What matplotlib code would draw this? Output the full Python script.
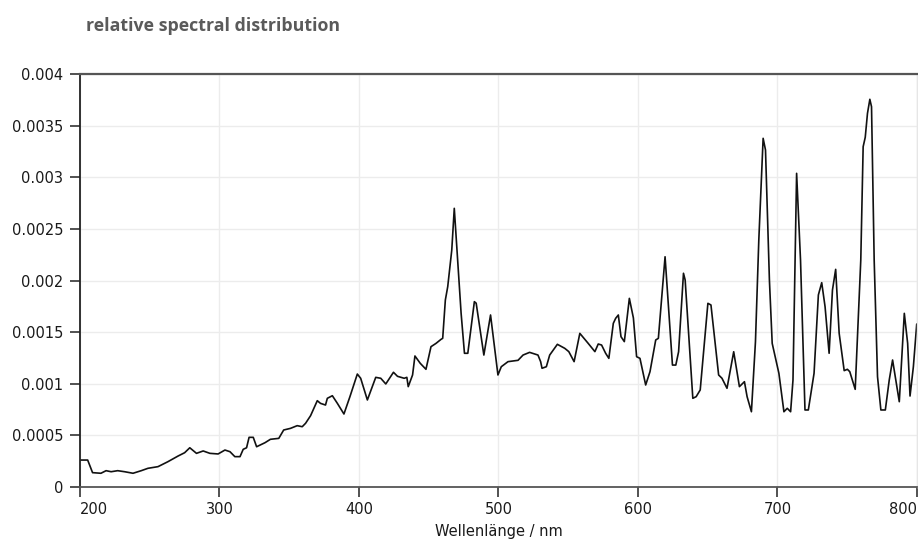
import matplotlib
matplotlib.use("Agg")
import matplotlib.pyplot as plt
from matplotlib.ticker import FixedLocator

# ---- data ----
wavelength = [
    200, 205.5, 209, 215, 218.7, 222.3, 227, 232, 238, 243.9, 248.7, 255.9, 263, 270.3, 275, 278.7,
    283.5, 288.3, 293.1, 299, 303.9, 307.5, 311, 314.7, 317, 319.4, 321.2, 324.2, 326.6, 332.6,
    336.5, 342.5, 346, 350.9, 355.7, 359.3, 361.7, 365.3, 370.1, 372.4, 376, 377.3, 380.9, 384.5,
    389.2, 393.5, 398.8, 401.2, 406, 412, 415.6, 419.2, 424.7, 427.6, 432.4, 434.3, 435.3, 438.4,
    440.1, 443.9, 448, 451.6, 455.2, 458.8, 460, 461.9, 463.6, 466.5, 468.3, 473.2, 475.6, 478,
    482.7, 484, 489.5, 494.3, 499.6, 502, 506.8, 514, 517.6, 522.3, 528.3, 530.2, 531.2, 534.3,
    536.7, 542.2, 547.5, 550.4, 554.2, 558.3, 564.3, 569.1, 571.5, 573.9, 576.8, 579.1, 582.3,
    584, 585.9, 587.8, 590.2, 593.8, 596.7, 599, 601.4, 605.5, 608.6, 611, 612.7, 614.6, 619.4,
    624.7, 627.1, 629.1, 632.6, 633.8, 639.3, 641.7, 644.6, 650.1, 652.3, 657.8, 660.2, 663.8,
    668.6, 672.7, 676.3, 678.2, 681.3, 684.2, 686.6, 689.7, 691.4, 694.2, 696.2, 701, 704.6, 707,
    709.4, 711.1, 713.7, 716.5, 719.7, 722.1, 726.2, 729.3, 731.7, 734.1, 737, 739.4, 741.7,
    744.2, 747.8, 750.1, 751.8, 755.7, 759.7, 761.4, 762.9, 764.5, 766.2, 767.4, 769.3, 771.7,
    774.1, 777.3, 780.1, 782.5, 785.4, 787.3, 790.9, 793.3, 795, 797.4, 799.8, 801.7,
]
intensity = [
    0.000261, 0.000261, 0.000139, 0.000133, 0.000158, 0.000148, 0.000158, 0.000148, 0.000133,
    0.000158, 0.000181, 0.000197, 0.000245, 0.000300, 0.000332, 0.000380,
    0.000326, 0.000349, 0.000326, 0.000320, 0.000358, 0.000342, 0.000294, 0.000294, 0.000365,
    0.000380, 0.000481, 0.000481, 0.000390, 0.000429,
    0.000462, 0.000471, 0.000552, 0.000568, 0.000594, 0.000584, 0.000617, 0.000691, 0.000836,
    0.000810, 0.000794, 0.000859, 0.000884, 0.000810,
    0.000707, 0.000875, 0.001094, 0.001053, 0.000843, 0.001062, 0.001053, 0.000998, 0.001111,
    0.001072, 0.001053, 0.001062, 0.000972, 0.001085,
    0.001269, 0.001198, 0.001140, 0.001359, 0.001391, 0.001430, 0.001440, 0.001811, 0.001940,
    0.002295, 0.002699, 0.001682, 0.001295, 0.001295,
    0.001795, 0.001780, 0.001278, 0.001666, 0.001085, 0.001165, 0.001214, 0.001227, 0.001278,
    0.001304, 0.001278, 0.001214, 0.001150, 0.001165,
    0.001278, 0.001382, 0.001343, 0.001311, 0.001214, 0.001488, 0.001391, 0.001311, 0.001385,
    0.001375, 0.001295, 0.001246, 0.001585,
    0.001634, 0.001666, 0.001456, 0.001408, 0.001827, 0.001637, 0.001262, 0.001246, 0.000988,
    0.001117, 0.001295, 0.001424, 0.001440, 0.002230,
    0.001181, 0.001181, 0.001310, 0.002070, 0.002005, 0.000859, 0.000875, 0.000940, 0.001779,
    0.001763, 0.001085, 0.001053, 0.000956,
    0.001310, 0.000972, 0.001020, 0.000875, 0.000729, 0.001407, 0.002392, 0.003377, 0.003264,
    0.002005, 0.001391, 0.001101, 0.000729, 0.000762,
    0.000729, 0.001036, 0.003038, 0.002198, 0.000746, 0.000746, 0.001101, 0.001860, 0.001979,
    0.001746, 0.001295, 0.001908, 0.002108,
    0.001489, 0.001127, 0.001140, 0.001117, 0.000946, 0.002198, 0.003296, 0.003387, 0.003619,
    0.003755, 0.003683, 0.002198, 0.001068,
    0.000746, 0.000746, 0.001036, 0.001230, 0.000988, 0.000826, 0.001682, 0.001391, 0.000881,
    0.001165, 0.001578, 0.001550,
]
assert len(wavelength) == len(intensity)

x_ticks = [200, 300, 400, 500, 600, 700, 800]
x_tick_labels = ["200", "300", "400", "500", "600", "700", "800"]
y_ticks = [0, 0.0005, 0.001, 0.0015, 0.002, 0.0025, 0.003, 0.0035, 0.004]
y_tick_labels = ["0", "0.0005", "0.001", "0.0015", "0.002", "0.0025", "0.003", "0.0035", "0.004"]
title_text = "relative spectral distribution"
x_label = "Wellenlänge / nm"

# ---- figure ----
W, H = 918, 544
fig = plt.figure(figsize=(W / 100, H / 100), dpi=100)
ax = fig.add_axes([80 / W, 1 - 487 / H, (917 - 80) / W, (487 - 74) / H])

ax.plot(wavelength, intensity, color="#111111", lw=1.2, solid_joinstyle="round")

ax.set_xlim(200, 800)
ax.set_ylim(0, 0.004)
ax.xaxis.set_major_locator(FixedLocator(x_ticks))
ax.yaxis.set_major_locator(FixedLocator(y_ticks))
ax.set_xticklabels(x_tick_labels)
ax.set_yticklabels(y_tick_labels)

ax.grid(True, color="#ececec", lw=1.0)
ax.set_axisbelow(True)

ax.spines["left"].set_color("#222222")
ax.spines["left"].set_linewidth(1.3)
ax.spines["bottom"].set_color("#555555")
ax.spines["bottom"].set_linewidth(1.3)
ax.spines["top"].set_color("#555555")
ax.spines["top"].set_linewidth(1.6)
ax.spines["right"].set_color("#e6e6e6")
ax.spines["right"].set_linewidth(1.0)

ax.tick_params(axis="both", direction="out", length=7, width=1.2, color="#333333",
               labelsize=10.5, labelcolor="#1a1a1a")
ax.tick_params(axis="y", pad=5)
ax.tick_params(axis="x", pad=4)

xl = ax.get_xticklabels()
xl[0].set_horizontalalignment("left")
xl[-1].set_horizontalalignment("right")

ax.set_xlabel(x_label, fontsize=10.5, color="#1a1a1a", labelpad=5)

fig.text(86 / W, 1 - 31 / H, title_text, fontsize=12.8, fontweight="bold",
         family=["Open Sans", "DejaVu Sans"], color="#5a5a5a", ha="left", va="baseline")

fig.savefig("out.png", dpi=100, facecolor="white")
